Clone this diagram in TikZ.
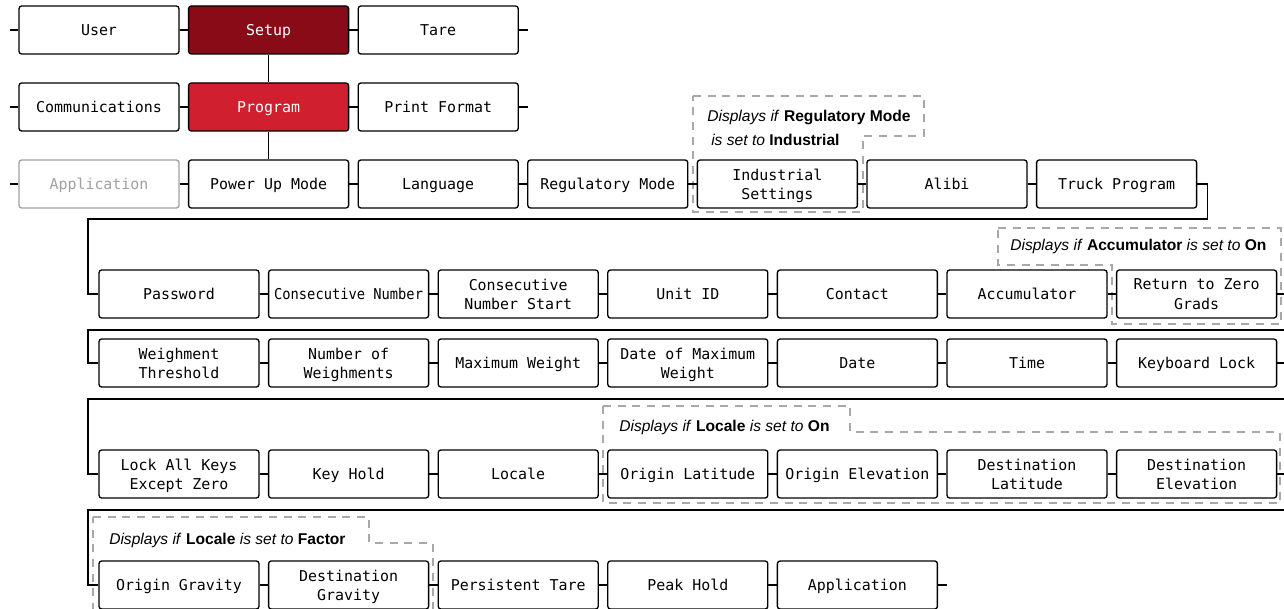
\documentclass[tikz,border=0pt]{standalone}
\usepackage{fontspec}
\setmainfont{Liberation Sans}
\setmonofont{DejaVu Sans Mono}

\definecolor{setupred}{HTML}{8A0B18}
\definecolor{progred}{HTML}{D0202F}
\definecolor{notegray}{HTML}{A8A8A8}
\definecolor{offgray}{HTML}{A0A0A0}

\newcommand{\squeeze}[1]{\scalebox{0.92}[1]{#1}}

\begin{document}
\begin{tikzpicture}[x=0.75pt, y=-0.75pt,
    menu/.style={draw, line width=1pt, rounded corners=2pt, minimum width=120pt,
      minimum height=36pt, inner sep=0pt, align=center, text depth=0pt,
      font=\fontsize{11.2}{14.5}\selectfont\ttfamily},
    link/.style={line width=1pt},
    notebox/.style={draw=notegray, line width=0.8pt, dash pattern=on 6pt off 5pt},
    note/.style={anchor=west, inner sep=0pt, align=left,
      font=\fontsize{11.7}{18}\selectfont}]
  \useasboundingbox (0,0) rectangle (1284,609);

  % conditional areas
  \draw [notebox] (693,96) -- (924,96) -- (924,136) -- (863,136) -- (863,212) -- (693,212) -- cycle;
  \draw [notebox] (998,228) -- (1281,228) -- (1281,324) -- (1112,324) -- (1112,265) -- (998,265) -- cycle;
  \draw [notebox] (603,406) -- (850,406) -- (850,432) -- (1280,432) -- (1280,503) -- (603,503) -- cycle;
  \draw [notebox] (93,517) -- (369,517) -- (369,543) -- (433,543) -- (433,620) -- (93,620) -- cycle;
  \node [note] (noteind) at (707,128) {\textit{Displays if} \textbf{Regulatory Mode}\\\hspace{3pt}\textit{is set to} \textbf{Industrial}};
  \node [note] (noteacc) at (1010,246) {\textit{Displays if} \textbf{Accumulator} \textit{is set to} \textbf{On}};
  \node [note] (noteon) at (619,427) {\textit{Displays if} \textbf{Locale} \textit{is set to} \textbf{On}};
  \node [note] (notefac) at (109,540) {\textit{Displays if} \textbf{Locale} \textit{is set to} \textbf{Factor}};

  % top menu
  \node [menu] (user) at (99,30) {User};
  \node [menu, fill=setupred, text=white] (setup) at (268.6,30) {Setup};
  \node [menu] (tare) at (438.2,30) {Tare};
  \node [menu] (comm) at (99,107) {Communications};
  \node [menu, fill=progred, text=white] (program) at (268.6,107) {Program};
  \node [menu] (printfmt) at (438.2,107) {Print Format};
  \node [menu, draw=offgray, text=offgray] (apptop) at (99,184) {Application};
  \node [menu] (powerup) at (268.6,184) {Power Up Mode};
  \node [menu] (lang) at (438.2,184) {Language};
  \node [menu] (regmode) at (607.8,184) {Regulatory Mode};
  \node [menu] (indset) at (777.4,184) {Industrial\\Settings};
  \node [menu] (alibi) at (947,184) {Alibi};
  \node [menu] (truck) at (1116.6,184) {Truck Program};

  % program items
  \node [menu] (pass) at (179,294) {Password};
  \node [menu] (consnum) at (348.6,294) {\squeeze{Consecutive Number}};
  \node [menu] (consstart) at (518.2,294) {Consecutive\\Number Start};
  \node [menu] (unitid) at (687.8,294) {Unit ID};
  \node [menu] (contact) at (857.4,294) {Contact};
  \node [menu] (accum) at (1027,294) {Accumulator};
  \node [menu] (rtz) at (1196.6,294) {Return to Zero\\Grads};

  \node [menu] (wthresh) at (179,363) {Weighment\\Threshold};
  \node [menu] (numweigh) at (348.6,363) {Number of\\Weighments};
  \node [menu] (maxw) at (518.2,363) {Maximum Weight};
  \node [menu] (datemax) at (687.8,363) {Date of Maximum\\Weight};
  \node [menu] (date) at (857.4,363) {Date};
  \node [menu] (time) at (1027,363) {Time};
  \node [menu] (kblock) at (1196.6,363) {Keyboard Lock};

  \node [menu] (lockall) at (179,474) {Lock All Keys\\Except Zero};
  \node [menu] (keyhold) at (348.6,474) {Key Hold};
  \node [menu] (locale) at (518.2,474) {Locale};
  \node [menu] (origlat) at (687.8,474) {Origin Latitude};
  \node [menu] (origel) at (857.4,474) {Origin Elevation};
  \node [menu] (destlat) at (1027,474) {Destination\\Latitude};
  \node [menu] (destel) at (1196.6,474) {Destination\\Elevation};

  \node [menu] (origgrav) at (179,585) {Origin Gravity};
  \node [menu] (destgrav) at (348.6,585) {Destination\\Gravity};
  \node [menu] (perstare) at (518.2,585) {Persistent Tare};
  \node [menu] (peak) at (687.8,585) {Peak Hold};
  \node [menu] (appbot) at (857.4,585) {Application};

  % loose ends and bends
  \coordinate (s1) at (10,30);
  \coordinate (s2) at (10,107);
  \coordinate (s3) at (10,184);
  \coordinate (e1) at (528,30);
  \coordinate (e2) at (528,107);
  \coordinate (e7) at (947,585);
  \coordinate (w1) at (88,219);
  \coordinate (r2) at (1290,294);
  \coordinate (w2) at (88,330);
  \coordinate (r3) at (1290,363);
  \coordinate (w3) at (88,399);
  \coordinate (r4) at (1290,474);
  \coordinate (w4) at (88,510);

  \foreach \a/\b in {s1/user, user/setup, setup/tare, tare/e1,
      s2/comm, comm/program, program/printfmt, printfmt/e2,
      s3/apptop, apptop/powerup, powerup/lang, lang/regmode, regmode/indset,
      indset/alibi, alibi/truck, setup/program, program/powerup,
      pass/consnum, consnum/consstart, consstart/unitid, unitid/contact,
      contact/accum, accum/rtz,
      wthresh/numweigh, numweigh/maxw, maxw/datemax, datemax/date, date/time,
      time/kblock,
      lockall/keyhold, keyhold/locale, locale/origlat, origlat/origel,
      origel/destlat, destlat/destel,
      origgrav/destgrav, destgrav/perstare, perstare/peak, peak/appbot, appbot/e7}
    \draw [link] (\a) -- (\b);

  \draw [link] (truck.east) -- ++(10,0) |- (w1) |- (pass.west);
  \draw [link] (rtz.east) -- (r2) |- (w2) |- (wthresh.west);
  \draw [link] (kblock.east) -- (r3) |- (w3) |- (lockall.west);
  \draw [link] (destel.east) -- (r4) |- (w4) |- (origgrav.west);
\end{tikzpicture}
\end{document}
